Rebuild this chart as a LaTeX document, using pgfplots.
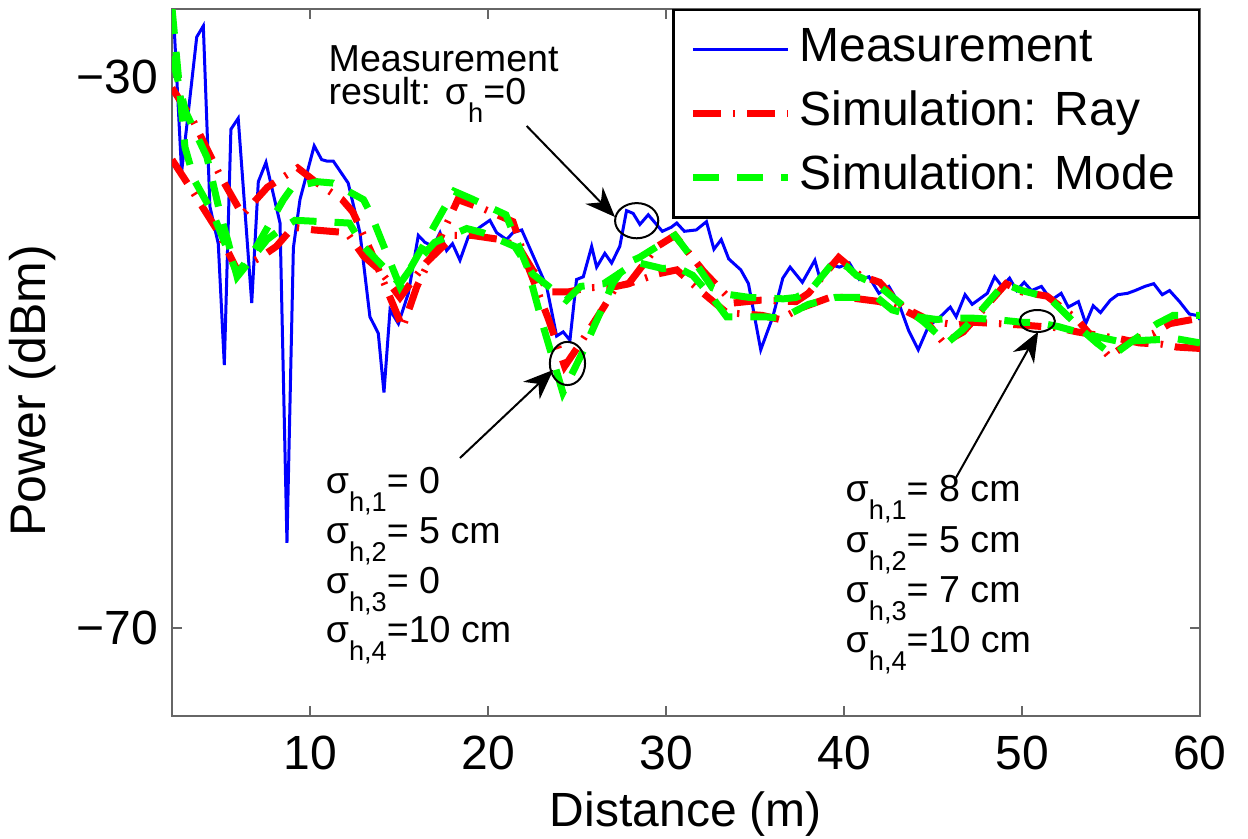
\documentclass[border=0pt]{standalone}
\usepackage{pgfplots}
\pgfplotsset{compat=1.18}
\usepackage{fontspec}
\setmainfont{Liberation Sans}
\usetikzlibrary{arrows.meta}

% subscript set low, as in the figure
\newcommand\sub[1]{\raisebox{-4.5pt}{\fontsize{6.8}{8}\selectfont #1}}

\begin{document}
\begin{tikzpicture}
\begin{axis}[
  scale only axis,
  width=257pt, height=176.75pt,
  xmin=2.24, xmax=60, ymin=-76.37, ymax=-25.07,
  xtick={10,20,30,40,50,60},
  xticklabels={10,20,30,40,50,60},
  ytick={-70,-30},
  yticklabels={−70,−30},
  tick align=inside,
  major tick length=2.5pt,
  axis line style={black!60, line width=0.6pt},
  every tick/.style={black!60, line width=0.6pt},
  tick label style={font=\fontsize{12}{14}\selectfont},
  xticklabel style={yshift=-1.5pt},
  xlabel={Distance (m)},
  ylabel={Power (dBm)},
  label style={font=\fontsize{12}{14}\selectfont},
  xlabel style={at={(axis description cs:0.5,-0.1556)}, anchor=base},
  ylabel style={at={(axis description cs:-0.1352,0.46)}, anchor=center, font=\fontsize{12.5}{14}\selectfont},
  legend style={at={(1,1)}, anchor=north east, draw=black, line width=0.6pt,
    font=\fontsize{12}{14}\selectfont, inner xsep=4pt, inner ysep=1.9pt,
    nodes={inner sep=2pt, text height=9pt, text depth=3pt}},
  legend cell align=left,
  legend image code/.code={\draw[#1] (0pt,0pt) -- (23.75pt,0pt);},
]

\addplot[blue, line width=0.75pt] coordinates {
(2.31,-25.1) (2.78,-36.9) (3.63,-27.1) (4.00,-26.3) (4.37,-39.4) (4.84,-42.1)
(5.18,-50.9) (5.55,-33.8) (5.96,-33.0) (6.72,-46.4) (7.09,-37.6) (7.52,-36.2)
(8.31,-40.6) (8.70,-63.8) (9.06,-42.4) (9.43,-38.9) (10.23,-35.0) (10.65,-36.0)
(10.93,-36.1) (11.30,-36.1) (12.14,-37.7) (12.80,-41.3) (13.36,-47.4) (13.83,-48.6)
(14.15,-52.9) (14.49,-46.9) (14.96,-47.9) (15.52,-45.7) (16.08,-41.5) (16.45,-42.0)
(16.92,-42.3) (17.30,-41.3) (17.67,-42.6) (18.00,-42.1) (18.42,-43.3) (18.89,-41.6)
(19.54,-40.9) (20.10,-40.4) (20.48,-41.3) (21.04,-41.8) (21.40,-41.3) (21.89,-41.1)
(22.54,-43.0) (23.29,-45.2) (23.85,-48.8) (24.22,-48.5) (24.60,-49.1) (24.97,-44.7)
(25.35,-44.5) (25.82,-42.3) (26.10,-43.8) (26.56,-42.8) (26.94,-43.5) (27.40,-42.3)
(27.78,-39.7) (28.15,-39.9) (28.53,-40.7) (29.00,-40.0) (29.79,-41.2) (30.30,-40.9)
(30.60,-40.6) (31.03,-41.2) (31.70,-41.1) (32.27,-40.5) (32.69,-42.5) (33.10,-41.8)
(33.52,-43.2) (34.20,-44.0) (34.63,-45.0) (35.32,-49.8) (36.00,-47.4) (36.56,-44.6)
(36.97,-43.8) (37.66,-44.9) (38.36,-43.3) (38.64,-44.6) (39.20,-43.6) (39.74,-43.8)
(40.30,-43.5) (40.86,-44.7) (41.40,-44.5) (41.96,-45.7) (42.52,-45.2) (43.07,-46.4)
(43.63,-48.4) (44.17,-49.8) (44.74,-48.1) (45.41,-47.4) (45.97,-46.7) (46.30,-47.4)
(46.80,-45.8) (47.20,-46.5) (48.05,-45.7) (48.46,-44.5) (48.88,-45.2) (49.30,-44.6)
(49.70,-45.5) (50.12,-44.9) (50.53,-45.5) (51.09,-45.2) (51.64,-46.2) (52.20,-45.7)
(52.60,-46.7) (53.17,-46.3) (53.58,-47.9) (54.00,-46.6) (54.41,-47.1) (54.96,-46.2)
(55.38,-45.8) (55.93,-45.7) (56.35,-45.5) (56.90,-45.2) (57.40,-45.0) (57.88,-45.8)
(58.29,-45.5) (58.85,-46.3) (59.40,-47.2) (59.80,-47.3) (60.00,-47.6)
};
\addlegendentry{Measurement}

\addplot[red, line width=1.75pt, dash pattern=on 7pt off 3pt on 0.6pt off 3pt] coordinates {
(2.24,-30.8) (3.4,-33.1) (5.0,-37.3) (6.2,-40.0) (7.6,-38.0) (9.3,-36.6) (10.4,-37.7)
(11.8,-38.9) (12.4,-39.8) (13.4,-42.6) (15.2,-48.2) (16.0,-45.2) (17.1,-42.3) (18.3,-38.9)
(19.8,-39.6) (21.4,-40.5) (22.2,-43.6) (23.4,-47.6) (24.3,-51.0) (25.2,-49.3) (26.5,-46.7)
(27.2,-45.2) (27.9,-45.0) (29.5,-42.3) (30.5,-41.5) (32.1,-44.1) (33.8,-46.4) (35.3,-46.2)
(37.3,-46.3) (38.0,-45.7) (39.7,-43.1) (40.9,-44.4) (42.0,-44.9) (43.3,-46.7) (44.4,-47.4)
(45.6,-49.3) (46.7,-48.5) (47.8,-46.9) (49.1,-45.0) (50.0,-45.6) (51.4,-45.9) (53.1,-47.6)
(54.9,-50.3) (56.2,-49.1) (57.4,-48.6) (58.3,-47.9) (60,-47.5)
};
\addlegendentry{Simulation: Ray}

\addplot[red, line width=1.75pt, dash pattern=on 7pt off 3pt on 0.6pt off 3pt, forget plot] coordinates {
(2.24,-36.0) (3.25,-38.0) (4.77,-41.1) (5.9,-44.0) (7.2,-43.1) (8.1,-42.3) (9.04,-40.9)
(10.2,-41.1) (12.07,-41.3) (13.0,-43.0) (13.9,-44.0) (15.05,-46.0) (16.5,-43.5) (18.1,-41.5)
(19.1,-41.5) (20.7,-41.8) (21.7,-42.3) (22.5,-44.0) (23.5,-45.6) (24.5,-45.6) (25.6,-45.3)
(27.2,-45.2) (27.9,-45.0) (29.5,-44.3) (30.6,-44.0) (32.0,-45.6) (33.4,-47.1) (35.4,-47.3)
(36.4,-47.6) (37.5,-46.8) (39.2,-46.0) (40.2,-46.0) (42.0,-46.3) (43.5,-47.0) (44.4,-47.6)
(46.3,-48.0) (47.3,-47.8) (50.0,-48.0) (52.0,-48.2) (53.1,-48.5) (55.5,-49.0) (56.6,-49.3)
(57.9,-49.4) (58.7,-49.6) (60,-49.7)
};

\addplot[green, line width=1.75pt, dash pattern=on 6.5pt off 4.5pt] coordinates {
(2.24,-25.0) (2.97,-35.1) (3.5,-37.5) (4.54,-39.9) (5.9,-44.3) (7.0,-42.3) (8.5,-38.9)
(9.0,-38.0) (10.4,-37.6) (11.3,-37.7) (13.0,-38.9) (13.4,-39.9) (15.05,-45.2) (16.2,-42.6)
(17.5,-39.6) (18.1,-38.3) (19.0,-38.8) (21.0,-40.0) (22.2,-43.8) (23.1,-48.1) (24.2,-52.9)
(25.3,-50.0) (26.3,-47.1) (27.0,-45.0) (27.8,-43.5) (28.5,-43.1) (30.5,-41.5) (31.5,-43.2)
(32.6,-45.3) (33.6,-45.8) (34.7,-46.0) (36.6,-46.1) (37.3,-46.0) (38.1,-45.5) (39.5,-43.3)
(40.2,-43.8) (40.7,-44.4) (42.0,-45.2) (43.5,-46.8) (44.5,-47.8) (45.8,-49.3) (46.7,-48.3)
(47.8,-46.8) (49.0,-45.0) (50.0,-45.5) (51.5,-46.0) (53.4,-48.4) (54.2,-49.3) (55.1,-50.2)
(56.8,-48.6) (57.6,-47.9) (58.5,-47.3) (60,-47.3)
};
\addlegendentry{Simulation: Mode}

\addplot[green, line width=1.75pt, dash pattern=on 6.5pt off 4.5pt, forget plot] coordinates {
(2.24,-28.5) (3.0,-32.5) (4.2,-35.8) (4.94,-39.9) (5.4,-42.0) (5.9,-44.5) (7.58,-41.8)
(8.3,-41.1) (9.15,-40.4) (12.2,-40.6) (13.0,-42.3) (15.05,-45.0) (15.6,-44.0) (17.0,-42.0)
(18.8,-41.0) (19.7,-41.3) (21.5,-42.3) (22.5,-44.3) (23.9,-45.7) (24.4,-46.2) (25.2,-45.2)
(26.5,-45.0) (27.9,-43.8) (28.5,-43.5) (29.8,-43.9) (30.6,-43.8) (31.5,-44.4) (32.6,-46.0)
(33.4,-47.4) (34.3,-47.4) (35.5,-47.4) (36.5,-47.5) (38.0,-46.5) (39.5,-46.0) (41.85,-46.0)
(42.7,-46.9) (44.1,-47.4) (45.2,-47.6) (46.1,-47.5) (47.2,-47.5) (48.5,-47.6) (50.0,-47.8)
(50.8,-47.8) (52.0,-48.1) (53.4,-48.6) (54.4,-48.9) (55.5,-49.2) (57.0,-49.1) (58.7,-49.0)
(60,-49.3)
};

% annotations
\node[anchor=base west, inner sep=0pt, font=\fontsize{9.4}{11}\selectfont] at (axis cs:11.0,-29.64) {Measurement};
\node[anchor=base west, inner sep=0pt, font=\fontsize{9.4}{11}\selectfont] at (axis cs:11.0,-32.03) {result: σ\sub{h}=0};
\draw[black, line width=0.5pt, -{Stealth[length=7.5pt, width=6pt]}] (axis cs:22.17,-33.56) -- (axis cs:27.13,-40.16);
\draw[black, line width=0.5pt] (axis cs:28.35,-40.43) ellipse [x radius=5.4pt, y radius=4.4pt];

\draw[black, line width=0.5pt, -{Stealth[length=7.5pt, width=6pt]}] (axis cs:18.42,-57.65) -- (axis cs:23.66,-51.26);
\draw[black, line width=0.5pt] (axis cs:24.46,-50.79) ellipse [x radius=4.4pt, y radius=5.4pt];

\draw[black, line width=0.5pt, -{Stealth[length=7.5pt, width=6pt]}] (axis cs:46.28,-59.1) -- (axis cs:50.91,-48.48);
\draw[black, line width=0.5pt] (axis cs:50.86,-47.71) ellipse [x radius=4.4pt, y radius=2.75pt];

\begin{scope}[every node/.style={anchor=base west, inner sep=0pt, font=\fontsize{9.4}{11}\selectfont}]
\node at (axis cs:10.84,-60.19) {σ\sub{h,1}= 0};
\node at (axis cs:10.84,-63.82) {σ\sub{h,2}= 5 cm};
\node at (axis cs:10.84,-67.45) {σ\sub{h,3}= 0};
\node at (axis cs:10.84,-71.07) {σ\sub{h,4}=10 cm};
\node at (axis cs:40.05,-60.84) {σ\sub{h,1}= 8 cm};
\node at (axis cs:40.05,-64.47) {σ\sub{h,2}= 5 cm};
\node at (axis cs:40.05,-68.10) {σ\sub{h,3}= 7 cm};
\node at (axis cs:40.05,-71.73) {σ\sub{h,4}=10 cm};
\end{scope}

\end{axis}
\pgfresetboundingbox
\path ([xshift=-43pt,yshift=-30.75pt]current axis.south west) rectangle ([xshift=12pt,yshift=2.25pt]current axis.north east);
\end{tikzpicture}
\end{document}
